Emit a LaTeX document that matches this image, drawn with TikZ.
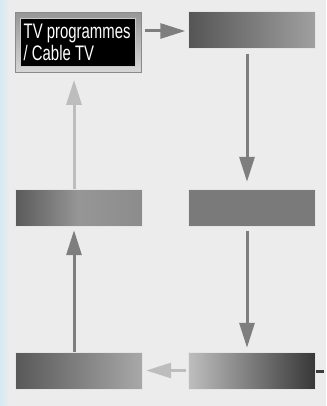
\documentclass[tikz,border=0pt]{standalone}
\usepackage{fontspec}
\setmainfont{Liberation Sans}
\usetikzlibrary{arrows.meta}
\definecolor{bg}{HTML}{ECECEC}
\definecolor{edgeblue}{HTML}{D6EBF3}
\definecolor{arrdark}{HTML}{7E7E7E}
\definecolor{arrpale}{HTML}{BDBDBD}
\definecolor{frameout}{HTML}{8A8A8A}
\tikzset{
  panel/.style={minimum width=127pt, minimum height=37pt, inner sep=0pt, draw=white!80!gray, line width=0.4pt},
  flow/.style={line width=3pt, draw=arrdark, -{Triangle[length=25pt,width=15pt]}},
  paleflow/.style={flow, draw=arrpale},
}
\begin{document}
\begin{tikzpicture}[x=1pt,y=-1pt]
  % canvas
  \fill[bg] (0,0) rectangle (326,406);
  \shade[left color=edgeblue, right color=bg] (0,0) rectangle (10,406);
  \useasboundingbox (0,0) rectangle (326,406);

  % source box: silver frame around a black label panel
  \node[minimum width=126pt, minimum height=60pt, inner sep=0pt, draw=frameout, line width=0.8pt,
        top color={rgb,255:red,150;green,150;blue,150}, bottom color={rgb,255:red,215;green,215;blue,215}] (src) at (78,42.5) {};
  \node[fill=black, draw={rgb,255:red,200;green,200;blue,200}, line width=0.6pt,
        minimum width=115pt, minimum height=48pt, inner sep=0pt] (srcin) at (78,42) {};
  \node[text=white, font=\fontsize{21}{22}\selectfont, align=left, inner sep=0pt,
        xscale=0.71, anchor=west] (lbl) at (23.5,42) {TV programmes\\/ Cable TV};

  % grey stage panels
  \node[panel, shading=axis, shading angle=-60, left color={rgb,255:red,85;green,85;blue,85}, right color={rgb,255:red,160;green,160;blue,160}] (b2) at (252,30) {};
  \node[panel, left color={rgb,255:red,90;green,90;blue,90}, right color={rgb,255:red,140;green,140;blue,140}, middle color={rgb,255:red,150;green,150;blue,150}] (m1) at (78.5,207.5) {};
  \node[panel, fill={rgb,255:red,122;green,122;blue,122}] (m2) at (252,207.5) {};
  \node[panel, left color={rgb,255:red,88;green,88;blue,88}, right color={rgb,255:red,168;green,168;blue,168}] (d1) at (78.5,370.5) {};
  \node[panel, left color={rgb,255:red,190;green,190;blue,190}, right color={rgb,255:red,55;green,55;blue,55}] (d2) at (252,370.5) {};

  % connectors
  \draw[flow] ([xshift=4pt]src.east |- 0,31) -- ([xshift=-3pt]b2.west |- 0,31);
  \draw[flow] ([xshift=-5pt,yshift=-5pt]b2.south) -- ([xshift=-5pt,yshift=7pt]m2.north);
  \draw[flow] ([xshift=-5pt,yshift=-5pt]m2.south) -- ([xshift=-5pt,yshift=4pt]d2.north);
  \draw[paleflow] ([xshift=-2pt]d2.west) -- ([xshift=4pt]d1.east);
  \draw[flow] ([xshift=-4.5pt]d1.north) -- ([xshift=-4.5pt,yshift=-4pt]m1.south);
  \draw[paleflow] ([xshift=-4.5pt]m1.north) -- ([xshift=-4pt,yshift=-7pt]src.south);

  % stub leaving the last panel
  \coordinate (stub) at (324,371);
  \draw[line width=3pt, draw={rgb,255:red,60;green,60;blue,60}] (d2.east |- stub) -- (stub);
\end{tikzpicture}
\end{document}
